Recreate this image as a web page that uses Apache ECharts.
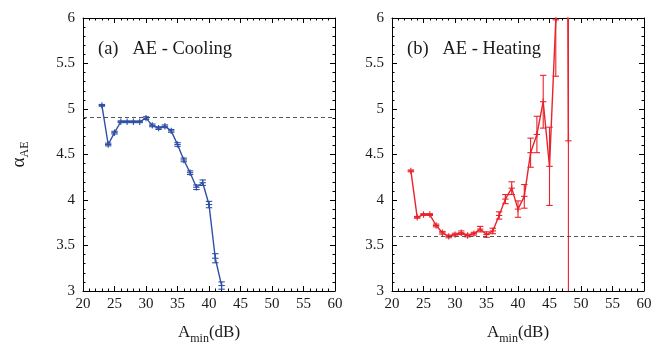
<!DOCTYPE html>
<html>
<head>
<meta charset="utf-8">
<script src="https://cdn.jsdelivr.net/npm/echarts@6/dist/echarts.min.js"></script>
<style>
html,body{margin:0;padding:0;background:#fff;}
#chart{width:656px;height:346px;}
</style>
</head>
<body>
<div id="chart"></div>
<script>
// ---- data ----
const coolX   = [23, 24, 25, 26, 27, 28, 29, 30, 31, 32, 33, 34, 35, 36, 37, 38, 39, 40, 41, 42];
const coolVal = [5.04, 4.61, 4.74, 4.86, 4.86, 4.86, 4.86, 4.90, 4.82, 4.79, 4.81, 4.76, 4.61, 4.44, 4.30, 4.14, 4.19, 3.95, 3.36, 3.06];
const coolErr = [0.01, 0.015, 0.015, 0.01, 0.01, 0.01, 0.01, 0.015, 0.015, 0.015, 0.015, 0.015, 0.02, 0.02, 0.02, 0.025, 0.03, 0.035, 0.05, 0.04];
const coolRef = 4.91;

const heatX   = [23, 24, 25, 26, 27, 28, 29, 30, 31, 32, 33, 34, 35, 36, 37, 38, 39, 40, 41, 42, 43, 44, 45, 46, 47, 48];
const heatVal = [4.32, 3.81, 3.84, 3.84, 3.72, 3.64, 3.60, 3.62, 3.64, 3.61, 3.63, 3.68, 3.62, 3.66, 3.83, 4.01, 4.13, 3.90, 4.04, 4.52, 4.72, 5.08, 4.37, 5.98, 20, 4.65];
const heatErr = [0.01, 0.01, 0.01, 0.01, 0.015, 0.015, 0.015, 0.015, 0.02, 0.015, 0.015, 0.03, 0.03, 0.03, 0.04, 0.05, 0.07, 0.09, 0.13, 0.16, 0.20, 0.29, 0.43, 0.62, 0, 5];
const heatRef = 3.6;

const xRange = [20, 60];
const yRange = [3, 6];
const panelTitles = ['(a)   AE - Cooling', '(b)   AE - Heating'];

// ---- styling ----
const FONT = 'Liberation Serif';
const BLUE = '#2f4fa6';
const RED = '#e8232b';

function makeErr(xs, vs, es) { return xs.map((x, i) => [x, vs[i], es[i]]); }
function makeLine(xs, vs) { return xs.map((x, i) => [x, vs[i]]); }

function errRender(color) {
  return function (params, api) {
    const x = api.value(0), v = api.value(1), e = api.value(2);
    const c = api.coord([x, v]);
    const hi = api.coord([x, v + e]);
    const lo = api.coord([x, v - e]);
    const w = 3.2;
    const st = { stroke: color, lineWidth: 1.1 };
    const ch = [
      { type: 'line', shape: { x1: c[0], y1: hi[1], x2: c[0], y2: lo[1] }, style: st },
      { type: 'line', shape: { x1: c[0] - w, y1: hi[1], x2: c[0] + w, y2: hi[1] }, style: st },
      { type: 'line', shape: { x1: c[0] - w, y1: lo[1], x2: c[0] + w, y2: lo[1] }, style: st },
      { type: 'line', shape: { x1: c[0] - w, y1: c[1], x2: c[0] + w, y2: c[1] }, style: st },
      { type: 'line', shape: { x1: c[0], y1: c[1] - w, x2: c[0], y2: c[1] + w }, style: st }
    ];
    return { type: 'group', children: ch };
  };
}

const axisLine = { show: true, onZero: false, lineStyle: { color: '#000', width: 1 } };
const tick = { show: true, inside: true, length: 5, lineStyle: { color: '#000', width: 1 } };
const minor = { show: true, splitNumber: 5, length: 2.5, lineStyle: { color: '#000', width: 1 } };
const lbl = { fontFamily: FONT, fontSize: 15, color: '#1a1a1a' };

const grids = [
  { left: 83, top: 18, width: 252, height: 273, outerBoundsMode: 'none', containLabel: false },
  { left: 392, top: 18, width: 252, height: 273, outerBoundsMode: 'none', containLabel: false }
];

const xAxes = [], yAxes = [];
[0, 1].forEach(g => {
  xAxes.push({
    type: 'value', gridIndex: g, min: xRange[0], max: xRange[1], interval: 5, position: 'bottom',
    axisLine, axisTick: tick, minorTick: minor, splitLine: { show: false },
    axisLabel: Object.assign({ margin: 6 }, lbl),
    name: '{a|A}{s|min}{a|(dB)}', nameLocation: 'middle', nameGap: 31,
    nameTextStyle: {
      rich: {
        a: { fontFamily: FONT, fontSize: 17, color: '#1a1a1a', lineHeight: 22 },
        s: { fontFamily: FONT, fontSize: 12, color: '#1a1a1a', lineHeight: 22, padding: [11, 0, 0, 0] }
      }
    }
  });
  xAxes.push({
    type: 'value', gridIndex: g, min: xRange[0], max: xRange[1], interval: 5, position: 'top',
    axisLine, axisTick: tick, minorTick: minor, splitLine: { show: false }, axisLabel: { show: false }
  });
  const yMain = {
    type: 'value', gridIndex: g, min: yRange[0], max: yRange[1], interval: 0.5, position: 'left',
    axisLine, axisTick: tick, minorTick: minor, splitLine: { show: false },
    axisLabel: Object.assign({ margin: 8 }, lbl)
  };
  if (g === 0) {
    Object.assign(yMain, {
      name: '{a|α}{s|AE}', nameLocation: 'middle', nameGap: 52, nameRotate: 90,
      nameTextStyle: {
        rich: {
          a: { fontFamily: FONT, fontSize: 19, color: '#1a1a1a', lineHeight: 24 },
          s: { fontFamily: FONT, fontSize: 12, color: '#1a1a1a', lineHeight: 24, padding: [11, 0, 0, 0] }
        }
      }
    });
  }
  yAxes.push(yMain);
  yAxes.push({
    type: 'value', gridIndex: g, min: yRange[0], max: yRange[1], interval: 0.5, position: 'right',
    axisLine, axisTick: tick, minorTick: minor, splitLine: { show: false }, axisLabel: { show: false }
  });
});

function refLine(val) {
  return {
    silent: true, symbol: 'none', label: { show: false },
    lineStyle: { color: '#444', type: [4, 3], width: 0.9 },
    data: [{ yAxis: val }]
  };
}

const titleStyle = { fontFamily: FONT, fontSize: 18.5, fontWeight: 'normal', color: '#1a1a1a' };

const option = {
  animation: false,
  backgroundColor: '#fff',
  grid: grids,
  xAxis: xAxes,
  yAxis: yAxes,
  title: [
    { text: panelTitles[0], left: 93, top: 35, textStyle: titleStyle },
    { text: panelTitles[1], left: 402, top: 35, textStyle: titleStyle }
  ],
  series: [
    {
      type: 'line', xAxisIndex: 0, yAxisIndex: 0, data: makeLine(coolX, coolVal),
      showSymbol: false, symbol: 'none', clip: true,
      lineStyle: { color: BLUE, width: 1.4 }, itemStyle: { color: BLUE },
      markLine: refLine(coolRef)
    },
    {
      type: 'custom', xAxisIndex: 0, yAxisIndex: 0, data: makeErr(coolX, coolVal, coolErr),
      renderItem: errRender(BLUE), clip: true
    },
    {
      type: 'line', xAxisIndex: 2, yAxisIndex: 2, data: makeLine(heatX, heatVal),
      showSymbol: false, symbol: 'none', clip: true,
      lineStyle: { color: RED, width: 1.4 }, itemStyle: { color: RED },
      markLine: refLine(heatRef)
    },
    {
      type: 'custom', xAxisIndex: 2, yAxisIndex: 2, data: makeErr(heatX, heatVal, heatErr),
      renderItem: errRender(RED), clip: true
    }
  ]
};

const chart = echarts.init(document.getElementById('chart'), null, { renderer: 'canvas' });
chart.setOption(option);
</script>
</body>
</html>
